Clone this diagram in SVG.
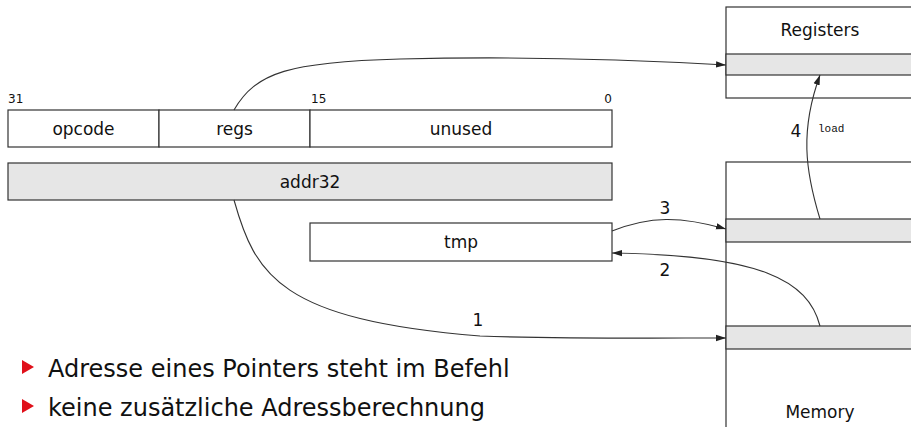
<svg xmlns="http://www.w3.org/2000/svg" width="911" height="427" viewBox="0 0 911 427">
<defs>
<marker id="ah" viewBox="0 0 10 10" refX="10" refY="5" markerWidth="10" markerHeight="10" markerUnits="userSpaceOnUse" orient="auto">
<path d="M0,1.8 L10,5 L0,8.2 z" fill="#222"/>
</marker>
<style>
.box{fill:#fff;stroke:#333;stroke-width:1.2}
.gray{fill:#e6e6e6;stroke:#333;stroke-width:1.2}
.t{font-family:"DejaVu Sans","Liberation Sans",sans-serif;font-size:17px;fill:#111;text-anchor:middle}
.n{font-family:"DejaVu Sans","Liberation Sans",sans-serif;font-size:12px;fill:#111}
.lbl{font-family:"DejaVu Sans","Liberation Sans",sans-serif;font-size:17px;fill:#111;text-anchor:middle}
.mono{font-family:"Liberation Mono","DejaVu Sans Mono",monospace;font-size:11px;fill:#111}
.b{font-family:"DejaVu Sans","Liberation Sans",sans-serif;font-size:24px;fill:#111}
.c{fill:none;stroke:#333;stroke-width:1.1}
</style>
</defs>
<rect width="911" height="427" fill="#fff"/>
<g id="bits">
<text class="n" x="8" y="103">31</text>
<text class="n" x="311" y="103">15</text>
<text class="n" x="612" y="103" text-anchor="end">0</text>
</g>
<g id="opcode"><rect class="box" x="8" y="110" width="151" height="37"/><text class="t" x="83.5" y="135">opcode</text></g>
<g id="regs"><rect class="box" x="159" y="110" width="151" height="37"/><text class="t" x="234.5" y="135">regs</text></g>
<g id="unused"><rect class="box" x="310" y="110" width="302" height="37"/><text class="t" x="461" y="135">unused</text></g>
<g id="addr32"><rect class="gray" x="8" y="163" width="604" height="37"/><text class="t" x="310" y="188">addr32</text></g>
<g id="tmp"><rect class="box" x="310" y="223" width="302" height="38"/><text class="t" x="461" y="248">tmp</text></g>
<g id="registers">
<rect class="box" x="726" y="7" width="200" height="91"/>
<rect class="gray" x="726" y="54" width="200" height="21"/>
<text class="t" x="820" y="36">Registers</text>
</g>
<g id="memory">
<rect class="box" x="726" y="162" width="200" height="280"/>
<rect class="gray" x="726" y="219" width="200" height="23"/>
<rect class="gray" x="726" y="326" width="200" height="23"/>
<text class="t" x="820" y="418">Memory</text>
</g>
<g id="connectors">
<path class="c" d="M234,110 C256,72 290,62 400,59 C520,56 640,60 726,65" marker-end="url(#ah)"/>
<path class="c" d="M234,200 C255,275 280,320 480,336 C560,339 660,338 726,338" marker-end="url(#ah)"/>
<path class="c" d="M612,231 C650,216 680,216 726,229" marker-end="url(#ah)"/>
<path class="c" d="M820,326 C808,280 760,255 612,253" marker-end="url(#ah)"/>
<path class="c" d="M820,219 C805,170 800,130 820,75" marker-end="url(#ah)"/>
<text class="lbl" x="478" y="326">1</text>
<text class="lbl" x="665" y="276">2</text>
<text class="lbl" x="665" y="214">3</text>
<text class="lbl" x="796" y="137">4</text>
<text class="mono" x="818" y="132">load</text>
</g>
<g id="bullets">
<path d="M22,360 L34,367 L22,374 z" fill="#e0101a"/>
<text class="b" x="48" y="377">Adresse eines Pointers steht im Befehl</text>
<path d="M22,399 L34,406 L22,413 z" fill="#e0101a"/>
<text class="b" x="48" y="416">keine zusätzliche Adressberechnung</text>
</g>
</svg>
